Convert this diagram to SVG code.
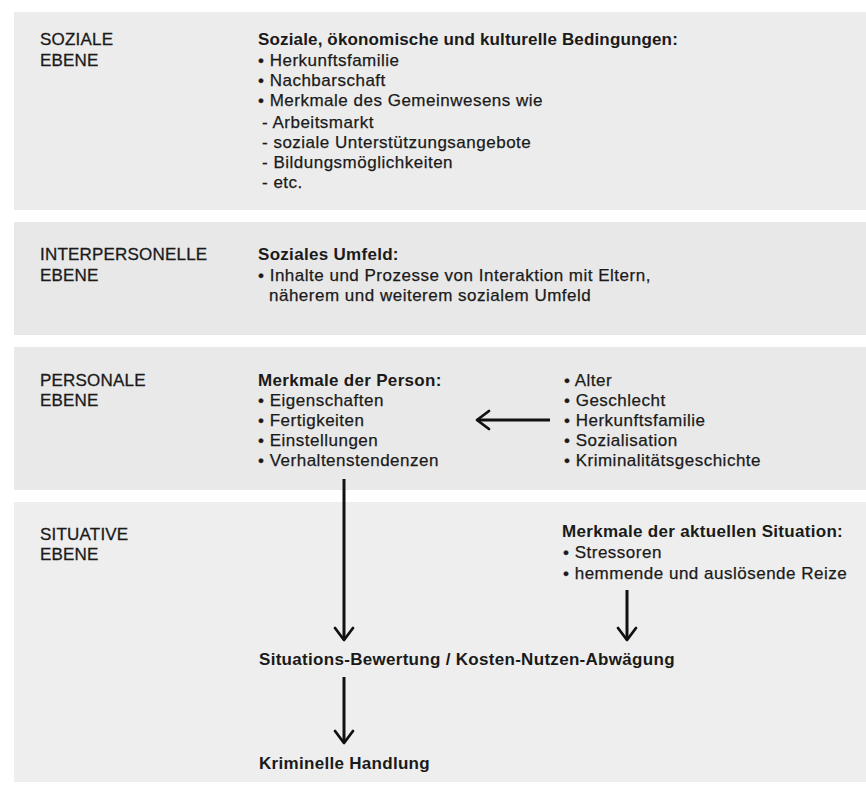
<svg xmlns="http://www.w3.org/2000/svg" width="866" height="785" viewBox="0 0 866 785">
  <defs>
    <style>
      text { font-family: "Liberation Sans", Arial, sans-serif; font-size: 17px; fill: #1a1a1a; }
      .lbl { letter-spacing: 0.2px; stroke: #1a1a1a; stroke-width: 0.3px; }
      .b { font-weight: bold; letter-spacing: 0.3px; }
      .t { letter-spacing: 0.5px; stroke: #1a1a1a; stroke-width: 0.25px; }
      .panel { stroke: none; }
      .conn { stroke: #111; stroke-width: 3; fill: none; }
    </style>
    <marker id="arr" markerUnits="userSpaceOnUse" markerWidth="30" markerHeight="30" viewBox="-15 -15 30 30" refX="0" refY="0" orient="auto" overflow="visible">
      <path d="M-12,-9 L0,0 L-12,9" fill="none" stroke="#111" stroke-width="2.8" stroke-linejoin="round" stroke-linecap="round"/>
    </marker>
  </defs>
  <rect width="866" height="785" fill="#ffffff"/>

  <g id="soziale-ebene">
    <rect class="panel" x="14" y="12" width="852" height="198" fill="#ececec"/>
    <text class="lbl" x="40" y="45">SOZIALE</text>
    <text class="lbl" x="40" y="66">EBENE</text>
    <text class="b" x="258" y="45" style="letter-spacing:0.15px">Soziale, ökonomische und kulturelle Bedingungen:</text>
    <text class="t" x="258" y="66">• Herkunftsfamilie</text>
    <text class="t" x="258" y="86">• Nachbarschaft</text>
    <text class="t" x="258" y="106">• Merkmale des Gemeinwesens wie</text>
    <text class="t" x="262" y="128">- Arbeitsmarkt</text>
    <text class="t" x="262" y="148">- soziale Unterstützungsangebote</text>
    <text class="t" x="262" y="168">- Bildungsmöglichkeiten</text>
    <text class="t" x="262" y="188">- etc.</text>
  </g>

  <g id="interpersonelle-ebene">
    <rect class="panel" x="14" y="222" width="852" height="113" fill="#e8e8e8"/>
    <text class="lbl" x="40" y="260">INTERPERSONELLE</text>
    <text class="lbl" x="40" y="281">EBENE</text>
    <text class="b" x="258" y="260">Soziales Umfeld:</text>
    <text class="t" x="258" y="281">• Inhalte und Prozesse von Interaktion mit Eltern,</text>
    <text class="t" x="269" y="301">näherem und weiterem sozialem Umfeld</text>
  </g>

  <g id="personale-ebene">
    <rect class="panel" x="14" y="347" width="852" height="143" fill="#e9e9e9"/>
    <text class="lbl" x="40" y="386">PERSONALE</text>
    <text class="lbl" x="40" y="406">EBENE</text>
  </g>

  <g id="merkmale-person">
    <text class="b" x="258" y="386">Merkmale der Person:</text>
    <text class="t" x="258" y="406">• Eigenschaften</text>
    <text class="t" x="258" y="426">• Fertigkeiten</text>
    <text class="t" x="258" y="446">• Einstellungen</text>
    <text class="t" x="258" y="466">• Verhaltenstendenzen</text>
  </g>

  <g id="einflussfaktoren">
    <text class="t" x="564" y="386">• Alter</text>
    <text class="t" x="564" y="406">• Geschlecht</text>
    <text class="t" x="564" y="426">• Herkunftsfamilie</text>
    <text class="t" x="564" y="446">• Sozialisation</text>
    <text class="t" x="564" y="466">• Kriminalitätsgeschichte</text>
  </g>

  <g id="situative-ebene">
    <rect class="panel" x="14" y="502" width="852" height="280" fill="#eeeeee"/>
    <text class="lbl" x="40" y="540">SITUATIVE</text>
    <text class="lbl" x="40" y="560">EBENE</text>
  </g>

  <g id="merkmale-situation">
    <text class="b" x="562" y="537">Merkmale der aktuellen Situation:</text>
    <text class="t" x="563" y="558">• Stressoren</text>
    <text class="t" x="563" y="579">• hemmende und auslösende Reize</text>
  </g>

  <g id="bewertung">
    <text class="b" x="259" y="665">Situations-Bewertung / Kosten-Nutzen-Abwägung</text>
  </g>

  <g id="handlung">
    <text class="b" x="259" y="769">Kriminelle Handlung</text>
  </g>

  <g id="connectors">
    <line class="conn" x1="550" y1="420" x2="477" y2="420" marker-end="url(#arr)"/>
    <line class="conn" x1="344" y1="479" x2="344" y2="640" marker-end="url(#arr)"/>
    <line class="conn" x1="627" y1="590" x2="627" y2="640" marker-end="url(#arr)"/>
    <line class="conn" x1="344" y1="677" x2="344" y2="743" marker-end="url(#arr)"/>
  </g>
</svg>
